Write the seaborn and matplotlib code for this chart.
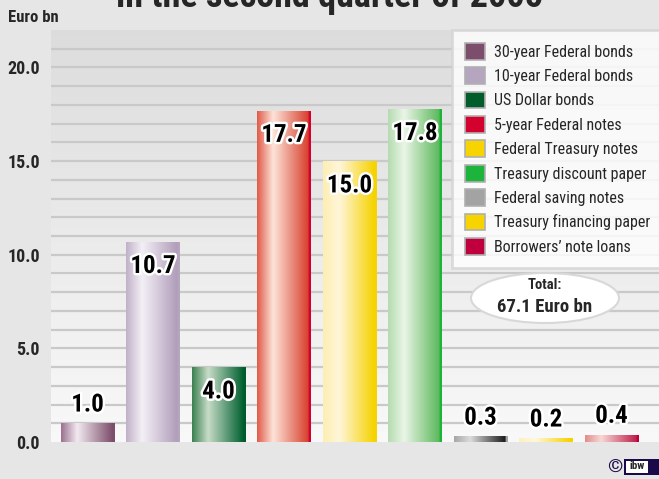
import numpy as np
import pandas as pd
import matplotlib
matplotlib.use("Agg")
import matplotlib.pyplot as plt
import matplotlib.patheffects as pe
from matplotlib import font_manager
from matplotlib.patches import Patch, Ellipse, Rectangle
from matplotlib.colors import to_rgb
import seaborn as sns

# ---- data ----
categories = [
    "30-year Federal bonds",
    "10-year Federal bonds",
    "US Dollar bonds",
    "5-year Federal notes",
    "Federal Treasury notes",
    "Treasury discount paper",
    "Federal saving notes",
    "Treasury financing paper",
    "Borrowers\u2019 note loans",
]
values = [1.0, 10.7, 4.0, 17.7, 15.0, 17.8, 0.3, 0.2, 0.4]
value_labels = ["1.0", "10.7", "4.0", "17.7", "15.0", "17.8", "0.3", "0.2", "0.4"]
colors = ["#7d4e6c", "#b5a5bf", "#005c2a", "#d4002e", "#f7d400",
          "#1db43c", "#a3a3a3", "#f7d400", "#c0003e"]
yticks = [0, 5, 10, 15, 20]
ytick_labels = ["0.0", "5.0", "10.0", "15.0", "20.0"]
total_text = "67.1 Euro bn"

# ---- styling for the cylinder shading: (left, highlight, right) tones ----
shade_tones = [
    ("#9a7090", "#f2eaf0", "#7d4e6c"),
    ("#c0b0c8", "#f4f0f6", "#b09cba"),
    ("#3a8050", "#c8dcc8", "#006030"),
    ("#e05a48", "#fde4d8", "#d8402e"),
    ("#fdeeb0", "#fff6da", "#f6d200"),
    ("#b4dbb0", "#eaf5e6", "#5cb85c"),
    ("#a6a6a6", "#dcdcdc", "#1a1a1a"),
    ("#fdf0c0", "#fff7dc", "#f6d200"),
    ("#e08c8c", "#f8d8d6", "#c0204c"),
]

# ---- fonts ----
available = {f.name for f in font_manager.fontManager.ttflist}
narrow = next((f for f in ["Liberation Sans Narrow", "DejaVu Sans Condensed",
                           "Roboto Condensed", "Open Sans Condensed",
                           "Liberation Sans"] if f in available), "DejaVu Sans")

sns.set_theme(style="white")
plt.rcParams["font.family"] = [narrow, "DejaVu Sans"]

W, H = 659, 479
fig = plt.figure(figsize=(W / 100, H / 100), dpi=100)
fig.patch.set_facecolor("#e6e6e6")

# axes placement in pixels
ax_l, ax_r, ax_t, ax_b = 51, 659, 30, 442
ax = fig.add_axes([ax_l / W, (H - ax_b) / H, (ax_r - ax_l) / W, (ax_b - ax_t) / H])

df = pd.DataFrame({"category": categories, "value": values})
sns.barplot(data=df, x="category", y="value", hue="category",
            palette=colors, width=0.81, legend=False, ax=ax, zorder=3,
            saturation=1)

xlim = (-0.557, 8.725)
ylim = (0, 22)
ax.set_xlim(*xlim)
ax.set_ylim(*ylim)

# plot area background: soft vertical gradient
bg = np.linspace(0.975, 0.865, 256).reshape(-1, 1)
bg_rgb = np.dstack([bg, bg, bg])
ax.imshow(bg_rgb, extent=[xlim[0], xlim[1], ylim[1], ylim[0]], aspect="auto",
          zorder=0, interpolation="bilinear")
ax.set_facecolor("#f0f0f0")

# horizontal rules every unit
for yv in range(1, 22):
    ax.axhline(yv, color="#c9c9c9", lw=1.6, zorder=1)

# cylindrical shading on each bar, with a solid stripe at the right edge
t = np.linspace(0, 1, 300)
for patch, col, (c_left, c_hi, c_right) in zip(ax.patches, colors, shade_tones):
    left = np.array(to_rgb(c_left))
    hi = np.array(to_rgb(c_hi))
    right = np.array(to_rgb(c_right))
    edge = np.array(to_rgb(col))
    rgb = np.empty((t.size, 3))
    for k in range(3):
        rgb[:, k] = np.interp(t, [0.0, 0.3, 0.955, 0.96, 1.0],
                              [left[k], hi[k], right[k], edge[k], edge[k]])
    img = rgb[None, :, :]
    x0 = patch.get_x()
    x1 = x0 + patch.get_width()
    h = patch.get_height()
    im = ax.imshow(img, extent=[x0, x1, 0, h], aspect="auto", zorder=4,
                   interpolation="bilinear")
    im.set_clip_path(patch)
    patch.set_edgecolor("none")

ax.set_xlim(*xlim)
ax.set_ylim(*ylim)

# value labels
stroke = [pe.withStroke(linewidth=3.5, foreground="white")]
for i, (v, lab) in enumerate(zip(values, value_labels)):
    y = v - 1.3 if v > 3 else v + 1.0
    ax.text(i, y, lab, ha="center", va="center", fontsize=18, fontweight="bold",
            color="black", zorder=6, path_effects=stroke)

# axes styling
ax.set_yticks(yticks)
ax.set_yticklabels(ytick_labels, fontsize=13, fontweight="bold")
ax.set_xticks([])
ax.set_xlabel("")
ax.set_ylabel("")
ax.tick_params(axis="y", length=0, pad=8)
for s in ax.spines.values():
    s.set_visible(False)

# unit label and title
fig.text(8 / W, 1 - 18 / H, "Euro bn", fontsize=12, fontweight="bold",
         ha="left", va="center")
fig.text(330 / W, 1 - 7 / H, "in the second quarter of 2005", fontsize=26,
         fontweight="bold", ha="center", va="baseline")

# legend
handles = [Patch(facecolor=c, edgecolor="#b0b0b0", linewidth=1.2) for c in colors]
leg = ax.legend(handles, categories, loc="upper left",
                bbox_to_anchor=(452 / W, 1 - 30 / H), bbox_transform=fig.transFigure,
                frameon=True, fancybox=False, fontsize=11.5, handlelength=1.25,
                handleheight=1.25, labelspacing=0.47, borderpad=0.8,
                handletextpad=0.6, borderaxespad=0)
leg.get_frame().set_facecolor("white")
leg.get_frame().set_edgecolor("#d4d4d4")
leg.get_frame().set_linewidth(2)
leg.set_zorder(7)

# total badge
fig.add_artist(Ellipse((545 / W, 1 - 298 / H), 148 / W, 50 / H,
                       transform=fig.transFigure, facecolor="white",
                       edgecolor="#d8d8d8", lw=1.5, zorder=8))
fig.text(545 / W, 1 - 285 / H, "Total:", fontsize=10.5, fontweight="bold",
         ha="center", va="center", zorder=9)
fig.text(545 / W, 1 - 307 / H, total_text, fontsize=13.5, fontweight="bold",
         ha="center", va="center", zorder=9)

# small copyright mark
fig.text(615 / W, 1 - 467 / H, "\u00a9", fontsize=14, fontweight="bold",
         color="#1a0a4a", ha="center", va="center")
fig.add_artist(Rectangle((624 / W, 1 - 475 / H), 35 / W, 16 / H,
                         transform=fig.transFigure, facecolor="#1a0a4a",
                         edgecolor="none"))
fig.add_artist(Rectangle((626 / W, 1 - 473 / H), 22 / W, 12 / H,
                         transform=fig.transFigure, facecolor="white",
                         edgecolor="none"))
fig.text(637 / W, 1 - 466 / H, "ibw", fontsize=8, fontweight="bold",
         ha="center", va="center")

fig.savefig("out.png", dpi=100, facecolor=fig.get_facecolor())
